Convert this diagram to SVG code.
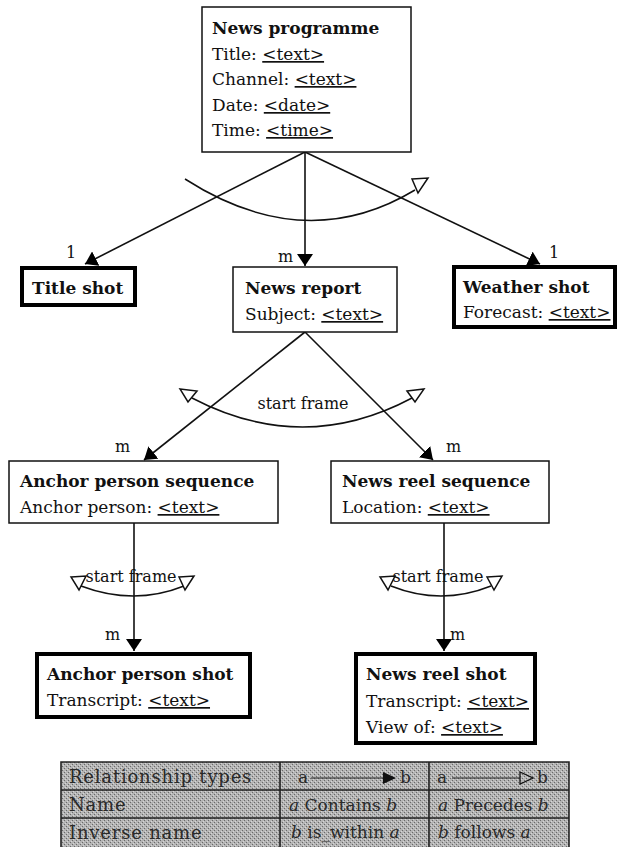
<svg xmlns="http://www.w3.org/2000/svg" width="617" height="847" viewBox="0 0 617 847">
  <style>
    text { font-family: "DejaVu Serif", "Liberation Serif", serif; font-size: 17px; fill: #111; }
    .title { font-weight: bold; }
    .lbl { font-size: 16px; }
    .u { text-decoration: underline; }
    .box { fill: #fff; stroke: #111; stroke-width: 1.5; }
    .shot { fill: #fff; stroke: #000; stroke-width: 4; }
    .edge { fill: none; stroke: #111; stroke-width: 1.6; }
    .arc { fill: none; stroke: #111; stroke-width: 1.5; }
    .tri { fill: #fff; stroke: #111; stroke-width: 1.5; stroke-linejoin: miter; }
    .tbl text { font-size: 17px; fill: #2a2a2a; }
    .tbl .head { font-size: 18px; letter-spacing: 0.8px; }
    .tbl .grid { fill: none; stroke: #222; stroke-width: 1.6; }
  </style>
  <defs>
    <marker id="head" markerUnits="userSpaceOnUse" viewBox="0 0 12 16" refX="12" refY="8" markerWidth="12" markerHeight="16" orient="auto">
      <path d="M0,0 L12,8 L0,16 z" fill="#000"/>
    </marker>
    <pattern id="halftone" width="4" height="4" patternUnits="userSpaceOnUse">
      <rect width="4" height="4" fill="#b4b4b4"/>
      <rect x="0" y="0" width="1" height="1" fill="#6a6a6a"/>
      <rect x="2" y="2" width="1" height="1" fill="#6a6a6a"/>
      <rect x="3" y="1" width="1" height="1" fill="#d6d6d6"/>
      <rect x="1" y="3" width="1" height="1" fill="#d6d6d6"/>
    </pattern>
  </defs>

  <!-- connectors -->
  <g id="connectors">
    <!-- News programme to its parts -->
    <line class="edge" x1="305" y1="152" x2="85" y2="264" marker-end="url(#head)"/>
    <line class="edge" x1="305" y1="152" x2="305" y2="266" marker-end="url(#head)"/>
    <line class="edge" x1="305" y1="152" x2="540" y2="264" marker-end="url(#head)"/>
    <path class="arc" d="M185,179 Q305,256 415,190"/>
    <polygon class="tri" points="412,179 428,178 418,193"/>
    <text class="lbl" x="66" y="258">1</text>
    <text class="lbl" x="278" y="262">m</text>
    <text class="lbl" x="549" y="258">1</text>

    <!-- News report to sequences -->
    <line class="edge" x1="305" y1="332" x2="144" y2="460" marker-end="url(#head)"/>
    <line class="edge" x1="305" y1="332" x2="433" y2="460" marker-end="url(#head)"/>
    <path class="arc" d="M192,398 Q303,456 412,398"/>
    <polygon class="tri" points="180,389 197,391 188,402"/>
    <polygon class="tri" points="407,391 424,389 415,402"/>
    <text class="lbl" x="303" y="409" text-anchor="middle">start frame</text>
    <text class="lbl" x="115" y="452">m</text>
    <text class="lbl" x="446" y="452">m</text>

    <!-- Sequences to shots -->
    <line class="edge" x1="134" y1="523" x2="134" y2="651" marker-end="url(#head)"/>
    <path class="arc" d="M81,586 Q134,606 184,586"/>
    <polygon class="tri" points="71,577 86,576 79,590"/>
    <polygon class="tri" points="179,577 194,576 185,590"/>
    <text class="lbl" x="131" y="582" text-anchor="middle">start frame</text>
    <text class="lbl" x="105" y="640">m</text>

    <line class="edge" x1="444" y1="523" x2="444" y2="651" marker-end="url(#head)"/>
    <path class="arc" d="M391,586 Q441,606 491,586"/>
    <polygon class="tri" points="380,577 395,576 388,590"/>
    <polygon class="tri" points="487,577 502,576 494,590"/>
    <text class="lbl" x="438" y="582" text-anchor="middle">start frame</text>
    <text class="lbl" x="450" y="640">m</text>
  </g>

  <g id="news-programme">
    <rect class="box" x="202" y="7" width="209" height="145"/>
    <text class="title" x="212" y="34">News programme</text>
    <text x="212" y="60">Title: <tspan class="u">&lt;text&gt;</tspan></text>
    <text x="212" y="85">Channel: <tspan class="u">&lt;text&gt;</tspan></text>
    <text x="212" y="111">Date: <tspan class="u">&lt;date&gt;</tspan></text>
    <text x="212" y="136">Time: <tspan class="u">&lt;time&gt;</tspan></text>
  </g>

  <g id="title-shot">
    <rect class="shot" x="22" y="268" width="113" height="37"/>
    <text class="title" x="32" y="294">Title shot</text>
  </g>

  <g id="news-report">
    <rect class="box" x="233" y="267" width="164" height="65"/>
    <text class="title" x="245" y="294">News report</text>
    <text x="245" y="320">Subject: <tspan class="u">&lt;text&gt;</tspan></text>
  </g>

  <g id="weather-shot">
    <rect class="shot" x="454" y="267" width="161" height="60"/>
    <text class="title" x="463" y="293">Weather shot</text>
    <text x="463" y="318">Forecast: <tspan class="u">&lt;text&gt;</tspan></text>
  </g>

  <g id="anchor-person-sequence">
    <rect class="box" x="9" y="461" width="269" height="62"/>
    <text class="title" x="20" y="487">Anchor person sequence</text>
    <text x="20" y="513">Anchor person: <tspan class="u">&lt;text&gt;</tspan></text>
  </g>

  <g id="news-reel-sequence">
    <rect class="box" x="331" y="461" width="218" height="62"/>
    <text class="title" x="342" y="487">News reel sequence</text>
    <text x="342" y="513">Location: <tspan class="u">&lt;text&gt;</tspan></text>
  </g>

  <g id="anchor-person-shot">
    <rect class="shot" x="37" y="654" width="213" height="63"/>
    <text class="title" x="47" y="680">Anchor person shot</text>
    <text x="47" y="706">Transcript: <tspan class="u">&lt;text&gt;</tspan></text>
  </g>

  <g id="news-reel-shot">
    <rect class="shot" x="356" y="654" width="179" height="89"/>
    <text class="title" x="366" y="680">News reel shot</text>
    <text x="366" y="707">Transcript: <tspan class="u">&lt;text&gt;</tspan></text>
    <text x="366" y="733">View of: <tspan class="u">&lt;text&gt;</tspan></text>
  </g>

  <!-- legend of relationship types -->
  <g id="legend" class="tbl">
    <rect x="61" y="762" width="508" height="88" fill="url(#halftone)"/>
    <path class="grid" d="M61,850 V762 H569 V850 M61,790 H569 M61,818 H569 M280,762 V850 M429,762 V850"/>
    <text class="head" x="69" y="783">Relationship types</text>
    <text class="head" x="69" y="811">Name</text>
    <text class="head" x="69" y="839">Inverse name</text>

    <text x="298" y="783">a</text>
    <line x1="311" y1="778" x2="385" y2="778" stroke="#222" stroke-width="1.2"/>
    <path d="M383,772 L396,778 L383,784 z" fill="#111"/>
    <text x="400" y="783">b</text>
    <text x="437" y="783">a</text>
    <line x1="452" y1="778" x2="520" y2="778" stroke="#222" stroke-width="1.2"/>
    <path d="M520,772 L533,778 L520,784 z" fill="none" stroke="#111" stroke-width="1.3"/>
    <text x="537" y="783">b</text>

    <text x="289" y="811"><tspan font-style="italic">a</tspan> Contains <tspan font-style="italic">b</tspan></text>
    <text x="438" y="811"><tspan font-style="italic">a</tspan> Precedes <tspan font-style="italic">b</tspan></text>
    <text x="291" y="838"><tspan font-style="italic">b</tspan> is_within <tspan font-style="italic">a</tspan></text>
    <text x="438" y="838"><tspan font-style="italic">b</tspan> follows <tspan font-style="italic">a</tspan></text>
  </g>
</svg>
